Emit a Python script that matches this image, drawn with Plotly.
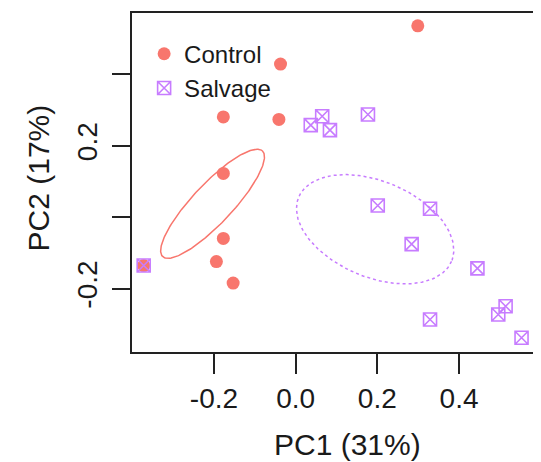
import numpy as np
import plotly.graph_objects as go

# ---- data ----
control_x = [0.299, -0.037, -0.177, -0.041, -0.177, -0.177, -0.194, -0.153, -0.372]
control_y = [0.536, 0.429, 0.281, 0.274, 0.123, -0.059, -0.124, -0.184, -0.135]

salvage_x = [0.037, 0.065, 0.084, 0.177, 0.201, 0.329, 0.284, 0.445, 0.329, 0.514, 0.496, 0.553, -0.372]
salvage_y = [0.258, 0.283, 0.244, 0.288, 0.033, 0.024, -0.075, -0.143, -0.286, -0.249, -0.272, -0.337, -0.135]

# ellipse parameters: centre, major half-axis vector, minor half-axis vector (data units)
control_ell = dict(c=(-0.2034, 0.038), a=(0.122, 0.148), b=(0.0356, -0.038))
salvage_ell = dict(c=(0.1946, -0.0333), a=(0.187, -0.090), b=(-0.0459, -0.1236))

x_ticks = [-0.2, 0.0, 0.2, 0.4]
x_ticktext = ["-0.2", "0.0", "0.2", "0.4"]
y_ticks = [-0.2, 0.0, 0.2, 0.4]
y_ticktext = ["-0.2", "", "0.2", ""]

RED = "#F8766D"
PURPLE = "#C77CFF"
FONT = "Liberation Sans, Arial, Helvetica, sans-serif"


def ellipse(p, n=200):
    t = np.linspace(0, 2 * np.pi, n)
    ex = p["c"][0] + p["a"][0] * np.cos(t) + p["b"][0] * np.sin(t)
    ey = p["c"][1] + p["a"][1] * np.cos(t) + p["b"][1] * np.sin(t)
    return ex, ey


fig = go.Figure()

ex, ey = ellipse(control_ell)
fig.add_trace(go.Scatter(x=ex, y=ey, mode="lines", line=dict(color=RED, width=1.5),
                         showlegend=False, hoverinfo="skip"))
ex, ey = ellipse(salvage_ell)
fig.add_trace(go.Scatter(x=ex, y=ey, mode="lines",
                         line=dict(color=PURPLE, width=1.5, dash="3px,3px"),
                         showlegend=False, hoverinfo="skip"))

fig.add_trace(go.Scatter(x=control_x, y=control_y, mode="markers", name="Control",
                         marker=dict(symbol="circle", size=13, color=RED)))
fig.add_trace(go.Scatter(x=salvage_x, y=salvage_y, mode="markers", name="Salvage",
                         marker=dict(symbol="square-x-open", size=13, color=PURPLE,
                                     line=dict(width=1.6, color=PURPLE))))

# page body has an 8px margin: figure is drawn from (8, 8)
fig.update_layout(
    width=533, height=454,
    margin=dict(l=124, r=3, t=4, b=110),
    paper_bgcolor="white", plot_bgcolor="white",
    font=dict(family=FONT, color="#1a1a1a"),
    legend=dict(x=0.03, y=0.945, xanchor="left", yanchor="top",
                bgcolor="rgba(0,0,0,0)", font=dict(size=24), itemsizing="trace",
                tracegroupgap=0),
    showlegend=True,
)

fig.update_xaxes(range=[-0.4006, 0.5884], tickvals=x_ticks, ticktext=x_ticktext,
                 ticks="outside", ticklen=20, tickwidth=1.5, tickcolor="#222",
                 tickfont=dict(size=28), ticklabelstandoff=1,
                 showline=True, linecolor="#222", linewidth=1.5, mirror=True,
                 showgrid=False, zeroline=False)
fig.update_yaxes(range=[-0.377, 0.572], tickvals=y_ticks, ticktext=y_ticktext,
                 ticks="outside", ticklen=18, tickwidth=1.5, tickcolor="#222",
                 tickfont=dict(size=28), tickangle=-90, ticklabelstandoff=4,
                 showline=True, linecolor="#222", linewidth=1.5, mirror=True,
                 showgrid=False, zeroline=False)

fig.add_annotation(text="PC1 (31%)", xref="paper", yref="paper", x=0.534, y=-0.274,
                   xanchor="center", yanchor="middle", showarrow=False,
                   font=dict(size=30, family=FONT, color="#1a1a1a"))
fig.add_annotation(text="PC2 (17%)", xref="paper", yref="paper", x=-0.231, y=0.514,
                   xanchor="center", yanchor="middle", showarrow=False, textangle=-90,
                   font=dict(size=30, family=FONT, color="#1a1a1a"))

fig.write_html("out.html")
